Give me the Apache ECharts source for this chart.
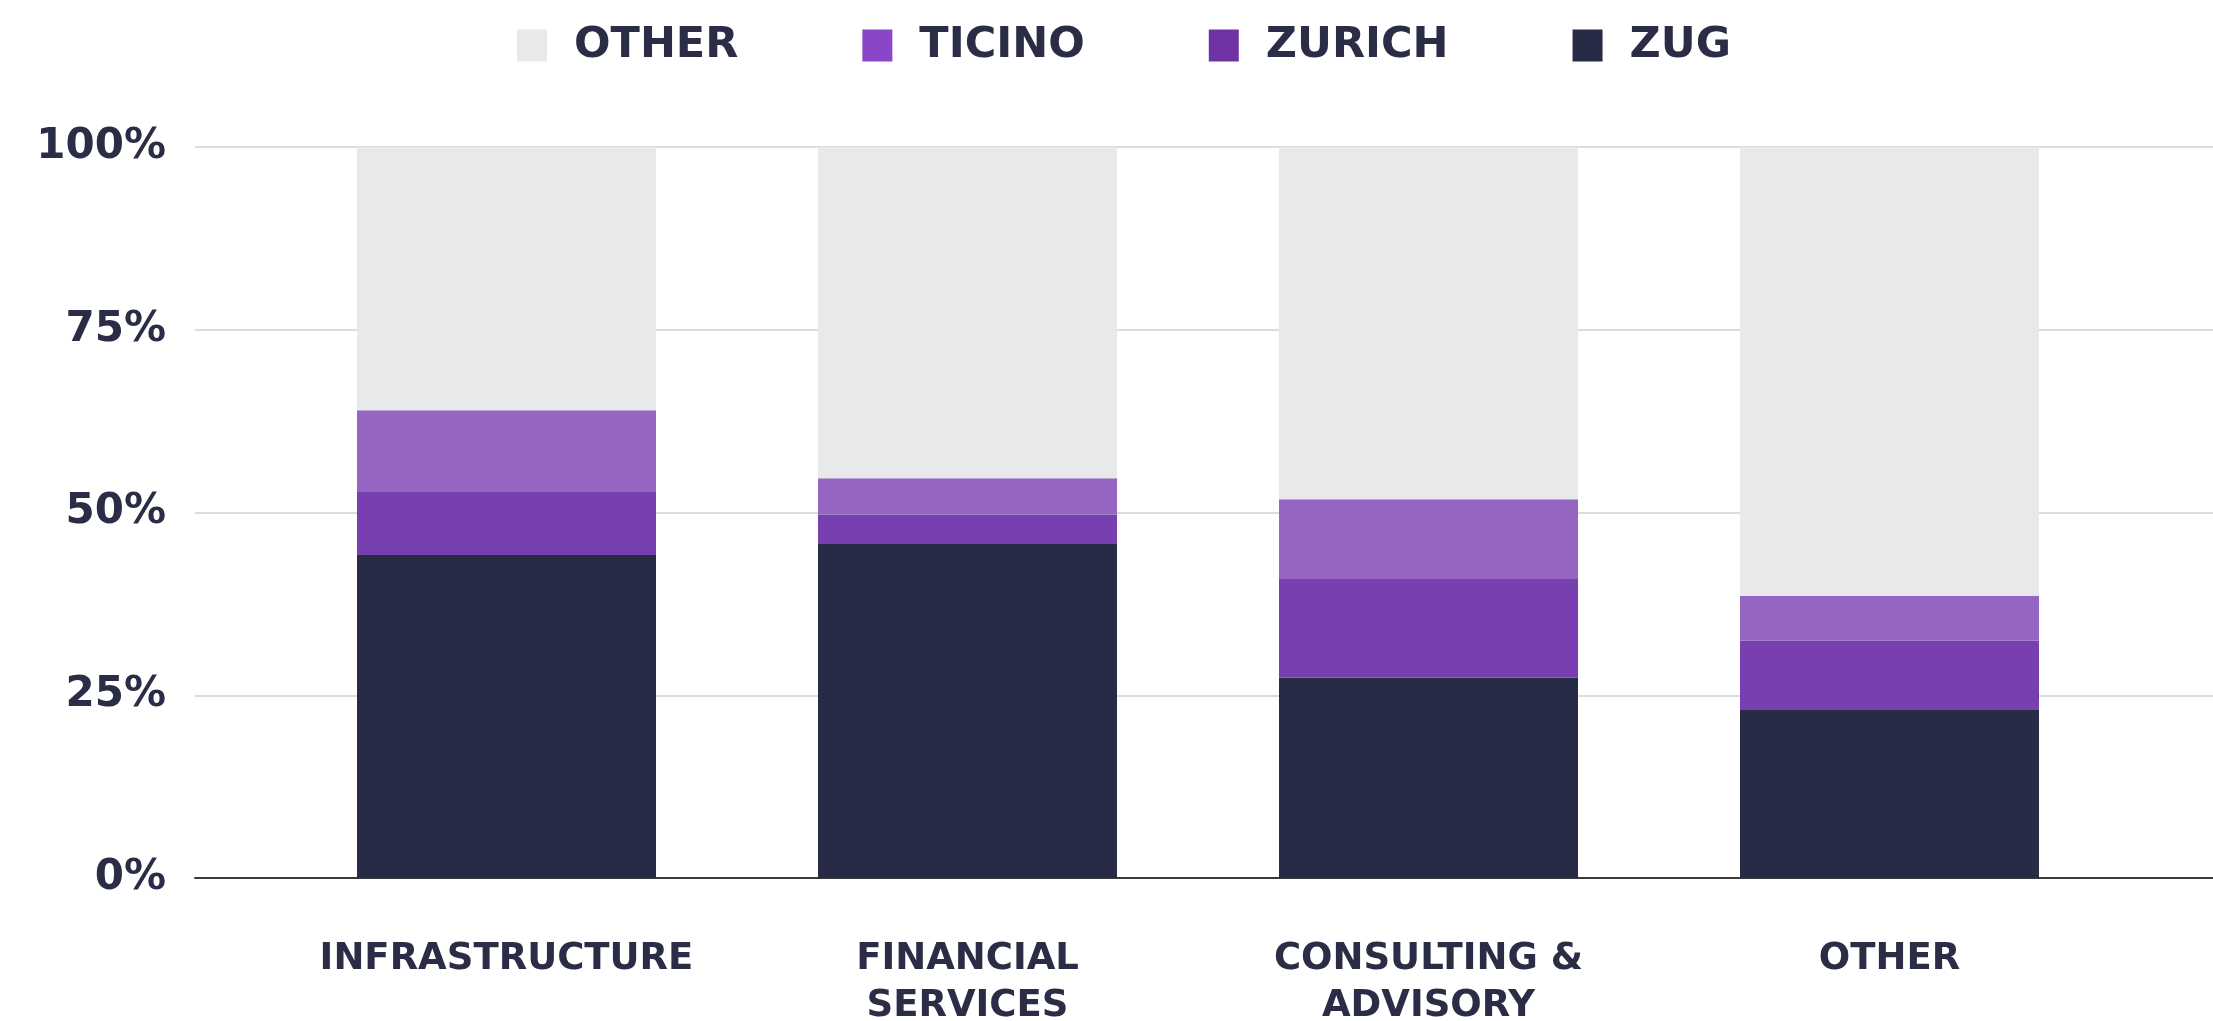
<!DOCTYPE html>
<html>
<head>
<meta charset="utf-8">
<script src="https://cdn.jsdelivr.net/npm/echarts@6.0.0/dist/echarts.min.js"></script>
<style>
  html, body { margin: 0; padding: 0; background: #fff; }
  #chart { width: 2213px; height: 1021px; }
</style>
</head>
<body>
<div id="chart"></div>
<script>
// data (percent of each sector)
const categories = ['INFRASTRUCTURE', 'FINANCIAL\nSERVICES', 'CONSULTING &\nADVISORY', 'OTHER'];
const zug = [44.2, 45.7, 27.4, 23.1];
const zurich = [8.7, 4.0, 13.5, 9.4];
const ticino = [11.1, 5.0, 10.9, 6.1];
const other = [36.0, 45.3, 48.2, 61.4];
const yTicks = [0, 25, 50, 75, 100];

const textColor = '#2a2d45';
const font = 'DejaVu Sans';

const chart = echarts.init(document.getElementById('chart'));

function barSeries(name, data, color) {
    return {
        name: name,
        type: 'bar',
        stack: 'total',
        xAxisIndex: 1,
        yAxisIndex: 1,
        barWidth: 299,
        data: data,
        itemStyle: { color: color },
        emphasis: { disabled: true }
    };
}

const option = {
    animation: false,
    backgroundColor: '#ffffff',
    legend: {
        top: 19,
        left: 512,
        itemWidth: 30,
        itemHeight: 32,
        itemGap: 124,
        icon: 'rect',
        textStyle: {
            color: textColor,
            fontFamily: font,
            fontWeight: 'bold',
            fontSize: 43,
            padding: [0, 0, 0, 22]
        },
        data: [
            { name: 'OTHER', itemStyle: { color: '#e8e9eb' } },
            { name: 'TICINO', itemStyle: { color: '#8a45c8' } },
            { name: 'ZURICH', itemStyle: { color: '#6f33a6' } },
            { name: 'ZUG', itemStyle: { color: '#282b45' } }
        ]
    },
    grid: [
        // wide grid: y labels, gridlines and base line
        { left: 195, right: 0, top: 147, bottom: 143, outerBoundsMode: 'none' },
        // bars
        { left: 276, right: 93, top: 147, bottom: 143, outerBoundsMode: 'none' }
    ],
    xAxis: [
        {
            type: 'value',
            gridIndex: 0,
            min: 0,
            max: 1,
            axisLabel: { show: false },
            axisTick: { show: false },
            splitLine: { show: false },
            axisLine: { show: true, lineStyle: { color: '#3a3a3a', width: 2 } }
        },
        {
            type: 'category',
            gridIndex: 1,
            data: categories,
            axisLine: { show: false },
            axisTick: { show: false },
            axisLabel: {
                color: textColor,
                fontFamily: font,
                fontWeight: 'bold',
                fontSize: 37,
                lineHeight: 47,
                margin: 58,
                interval: 0
            }
        }
    ],
    yAxis: [
        {
            type: 'value',
            gridIndex: 0,
            min: yTicks[0],
            max: yTicks[yTicks.length - 1],
            interval: 25,
            axisLine: { show: false },
            axisTick: { show: false },
            axisLabel: {
                color: textColor,
                fontFamily: font,
                fontWeight: 'bold',
                fontSize: 42,
                margin: 29,
                formatter: '{value}%'
            },
            splitLine: { lineStyle: { color: '#dcdcdc', width: 2 } }
        },
        {
            type: 'value',
            gridIndex: 1,
            min: 0,
            max: 100,
            show: false
        }
    ],
    series: [
        barSeries('ZUG', zug, '#282b45'),
        barSeries('ZURICH', zurich, '#773fb0'),
        barSeries('TICINO', ticino, '#9466c1'),
        barSeries('OTHER', other, '#e8e9eb')
    ]
};

chart.setOption(option);
</script>
</body>
</html>
